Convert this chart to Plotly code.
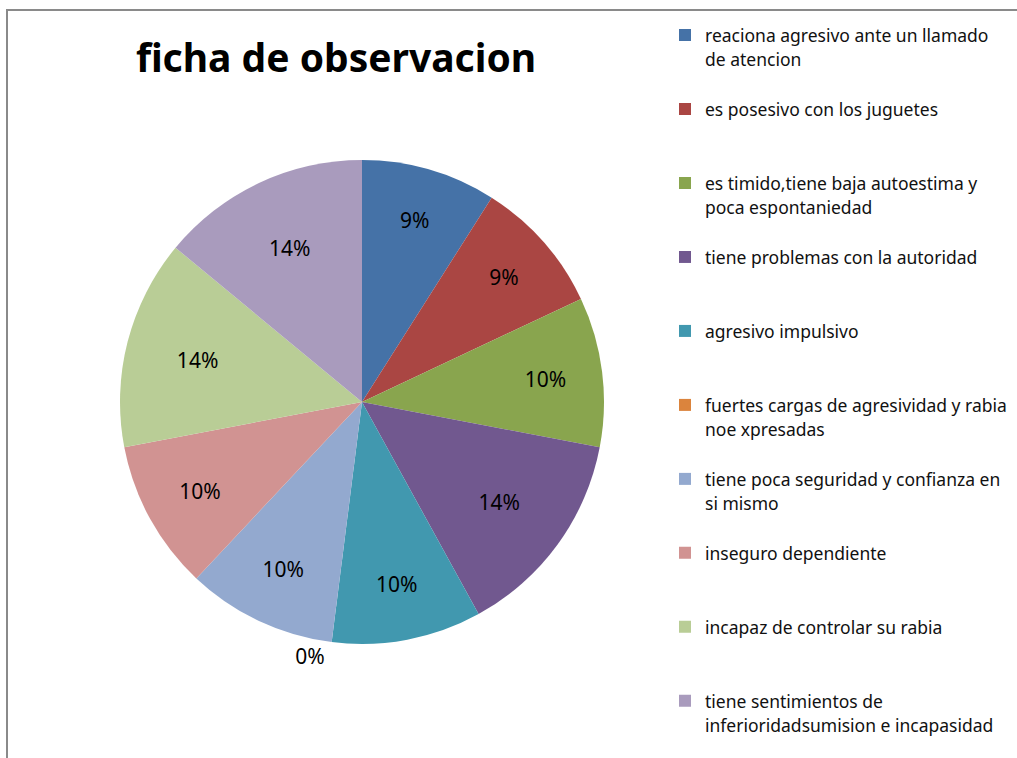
import plotly.graph_objects as go

# ficha de observacion - pie of observed behaviours (percent of total)
labels = [
    "reaciona agresivo ante un llamado<br>de atencion",
    "es posesivo con los juguetes",
    "es timido,tiene baja autoestima y<br>poca espontaniedad",
    "tiene problemas con la autoridad",
    "agresivo impulsivo",
    "fuertes cargas de agresividad y rabia<br>noe xpresadas",
    "tiene poca seguridad y confianza en<br>si mismo",
    "inseguro dependiente",
    "incapaz de controlar su rabia",
    "tiene sentimientos de<br>inferioridadsumision e incapasidad",
]
values = [9, 9, 10, 14, 10, 0, 10, 10, 14, 14]
colors = ["#4572A7", "#AA4643", "#89A54E", "#71588F", "#4198AF",
          "#DB843D", "#93A9CF", "#D19392", "#B9CD96", "#A99BBD"]

W, H = 1017, 758
FONT = "Noto Sans"


def legend_text(lab, last=False):
    # pad entries to three lines so the legend rows are evenly spaced
    n = lab.count("<br>") + 1
    txt = lab if last else lab + "<br> " * (3 - n)
    return '<span style="font-size:17.5px">' + txt + "</span>"


legend_labels = [legend_text(l, i == len(labels) - 1) for i, l in enumerate(labels)]

fig = go.Figure(go.Pie(
    labels=legend_labels,
    values=values,
    sort=False,
    direction="clockwise",
    rotation=0,
    marker=dict(colors=colors, line=dict(width=0)),
    texttemplate="%{percent:.0%}",
    textposition=["inside"] * 5 + ["outside"] + ["inside"] * 4,
    insidetextorientation="horizontal",
    textfont=dict(family=FONT, size=21, color="black"),
    domain=dict(x=[120 / W, 604 / W], y=[1 - 644 / H, 1 - 160 / H]),
    hoverinfo="label+percent",
))

fig.update_layout(
    width=W, height=H,
    margin=dict(l=0, r=0, t=0, b=0),
    paper_bgcolor="white",
    title=dict(
        text="<b>ficha de observacion</b>",
        font=dict(family=FONT, size=39, color="black"),
        x=336 / W, xanchor="center",
        y=1 - 58 / H, yanchor="middle",
    ),
    legend=dict(
        x=665 / W, xanchor="left",
        y=0.978, yanchor="top",
        valign="top",
        font=dict(family=FONT, size=18.2, color="#111111"),
        bgcolor="rgba(0,0,0,0)",
    ),
    shapes=[dict(
        type="rect", xref="paper", yref="paper",
        x0=7 / W, x1=1.02, y0=-0.02, y1=1 - 10 / H,
        line=dict(color="#8a8a8a", width=2),
    )],
)

fig.write_html("out.html", config={"displayModeBar": False},
               post_script="document.body.style.margin='0';")
